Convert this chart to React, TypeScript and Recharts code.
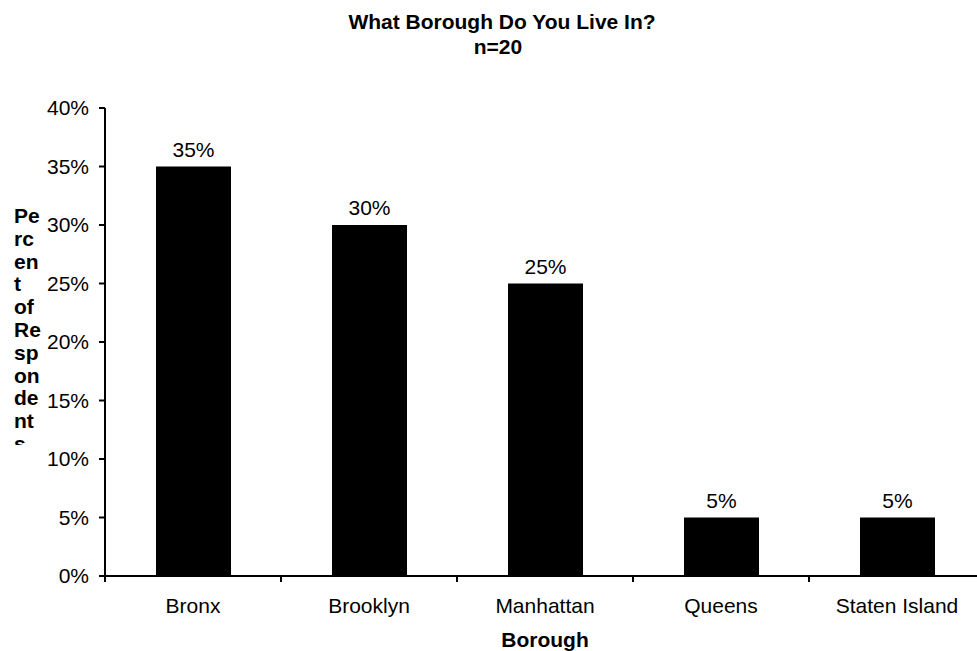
import { BarChart, Bar, XAxis, YAxis, LabelList } from 'recharts';

const BOROUGHS = ['Bronx', 'Brooklyn', 'Manhattan', 'Queens', 'Staten Island'];
const PERCENTS = [35, 30, 25, 5, 5];
const Y_TICKS = [0, 5, 10, 15, 20, 25, 30, 35, 40];
const Y_LABEL_LINES = ['Pe', 'rc', 'en', 't', 'of', 'Re', 'sp', 'on', 'de', 'nt', 's'];

const data = BOROUGHS.map((name, i) => ({ name, pct: PERCENTS[i] }));

const FONT = '"Liberation Sans", Arial, sans-serif';
const LABEL_GAP = 22;

// category label plus Excel-style tick marks on the band edges
function BoroughTick(props: any) {
  const { x, y, payload, index, visibleTicksCount } = props;
  const half = payload.offset || 0;
  const axisY = y - LABEL_GAP;
  const isLast = index === visibleTicksCount - 1;
  return (
    <g>
      <line x1={x - half} x2={x - half} y1={axisY} y2={axisY + 6} stroke="#000" strokeWidth={2} />
      {isLast && <line x1={x + half} x2={x + half} y1={axisY} y2={axisY + 6} stroke="#000" strokeWidth={2} />}
      <text x={x} y={y} dy="0.71em" textAnchor="middle" fontSize={21} fontFamily={FONT} fill="#000">
        {payload.value}
      </text>
    </g>
  );
}

export default function App() {
  return (
    <div style={{ position: 'fixed', left: 0, top: 0, width: 977, height: 651, overflow: 'hidden', background: '#fff', fontFamily: FONT }}>
      <BarChart
        width={990}
        height={651}
        data={data}
        margin={{ top: 108, right: 5, bottom: 35, left: 0 }}
        style={{ position: 'absolute', left: 0, top: 0 }}
      >
        <XAxis
          dataKey="name"
          height={40}
          axisLine={{ stroke: '#000', strokeWidth: 2 }}
          tickLine={false}
          tickSize={0}
          tickMargin={LABEL_GAP}
          interval={0}
          tick={<BoroughTick />}
        />
        <YAxis
          width={105}
          domain={[0, 40]}
          ticks={Y_TICKS}
          interval={0}
          tickFormatter={(v) => `${v}%`}
          tickSize={6}
          tickMargin={10}
          axisLine={{ stroke: '#000', strokeWidth: 2 }}
          tickLine={{ stroke: '#000', strokeWidth: 2 }}
          tick={{ fill: '#000', fontSize: 21, fontFamily: FONT }}
        />
        <Bar dataKey="pct" fill="#000" barSize={75} isAnimationActive={false}>
          <LabelList
            dataKey="pct"
            position="top"
            offset={10}
            formatter={(v: number) => `${v}%`}
            style={{ fill: '#000', fontSize: 21, fontFamily: FONT }}
          />
        </Bar>
      </BarChart>
      <svg width={977} height={651} style={{ position: 'absolute', left: 0, top: 0, pointerEvents: 'none' }}>
        <defs>
          <clipPath id="ylabclip">
            <rect x={0} y={195} width={60} height={250} />
          </clipPath>
        </defs>
        <text x={502} y={29} textAnchor="middle" fontSize={21} fontWeight="bold" fontFamily={FONT} fill="#000">
          What Borough Do You Live In?
        </text>
        <text x={498} y={54} textAnchor="middle" fontSize={21} fontWeight="bold" fontFamily={FONT} fill="#000">
          n=20
        </text>
        <g clipPath="url(#ylabclip)">
          {Y_LABEL_LINES.map((t, i) => (
            <text key={i} x={14} y={223 + i * 22.8} fontSize={21} fontWeight="bold" fontFamily={FONT} fill="#000">
              {t}
            </text>
          ))}
        </g>
        <text x={545} y={647} textAnchor="middle" fontSize={21} fontWeight="bold" fontFamily={FONT} fill="#000">
          Borough
        </text>
      </svg>
    </div>
  );
}
